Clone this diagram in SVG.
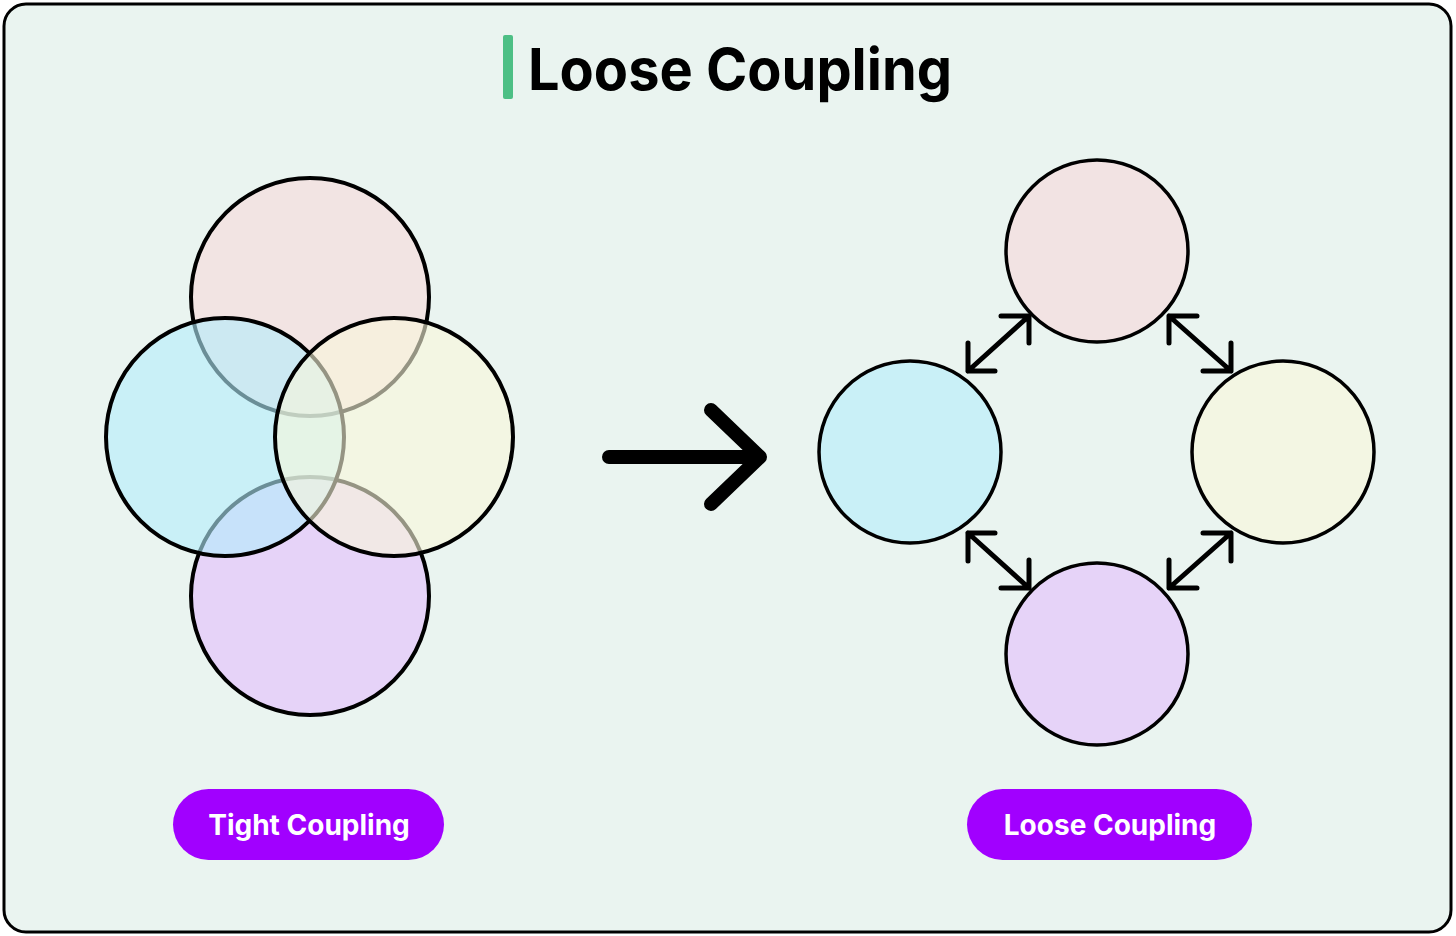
<svg xmlns="http://www.w3.org/2000/svg" width="1456" height="936" viewBox="0 0 1456 936">
<defs>
<style>
.frame{fill:#EAF4F0;stroke:#000;stroke-width:3}
.tc{stroke:#000;stroke-width:4;fill-opacity:0.6}
.lc{stroke:#000;stroke-width:3.5}
.conn{fill:none;stroke:#000;stroke-width:5;stroke-linecap:round;stroke-linejoin:round}
.big{fill:none;stroke:#000;stroke-width:14;stroke-linecap:round;stroke-linejoin:round}
.pill{fill:#A100FF}
.pt{font-family:Inter,"Liberation Sans",sans-serif;font-weight:700;font-size:28px;fill:#fff;text-anchor:middle}
.title{font-family:Inter,"Liberation Sans",sans-serif;font-weight:700;font-size:58px;fill:#000}
</style>
</defs>
<rect class="frame" x="4" y="4" width="1447" height="928" rx="22"/>
<g id="title">
<rect x="503" y="35" width="10" height="64" rx="2" fill="#4DBF85"/>
<text class="title" x="528" y="90" textLength="424" lengthAdjust="spacingAndGlyphs">Loose Coupling</text>
</g>
<g id="tight-coupling">
<circle id="t-top" class="tc" cx="310" cy="297" r="119" fill="#F7D8DA"/>
<circle id="t-bottom" class="tc" cx="310" cy="596" r="119" fill="#E3BDFD"/>
<circle id="t-left" class="tc" cx="225" cy="437" r="119" fill="#B3EDFC"/>
<circle id="t-right" class="tc" cx="394" cy="437" r="119" fill="#F9F7DA"/>
</g>
<g id="loose-coupling">
<circle id="l-top" class="lc" cx="1097" cy="251" r="91" fill="#F2E3E3"/>
<circle id="l-left" class="lc" cx="910" cy="452" r="91" fill="#C9F0F7"/>
<circle id="l-right" class="lc" cx="1283" cy="452" r="91" fill="#F3F6E3"/>
<circle id="l-bottom" class="lc" cx="1097" cy="654" r="91" fill="#E6D3F8"/>
</g>
<g id="connectors">
<path class="big" d="M609 457 H760 M711 410 L760 457 L711 504"/>
<path class="conn" d="M968 371 L1029 316 M1001 316 H1029 V343 M968 343 V371 H995"/>
<path class="conn" d="M1169 316 L1231 371 M1197 316 H1169 V343 M1231 343 V371 H1203"/>
<path class="conn" d="M968 533 L1029 588 M995 533 H968 V561 M1029 560 V588 H1001"/>
<path class="conn" d="M1231 533 L1169 588 M1203 533 H1231 V561 M1169 560 V588 H1197"/>
</g>
<g id="label-tight">
<rect class="pill" x="173" y="789" width="271" height="71" rx="35.5"/>
<text class="pt" x="309" y="835">Tight Coupling</text>
</g>
<g id="label-loose">
<rect class="pill" x="967" y="789" width="285" height="71" rx="35.5"/>
<text class="pt" x="1110" y="835">Loose Coupling</text>
</g>
</svg>
